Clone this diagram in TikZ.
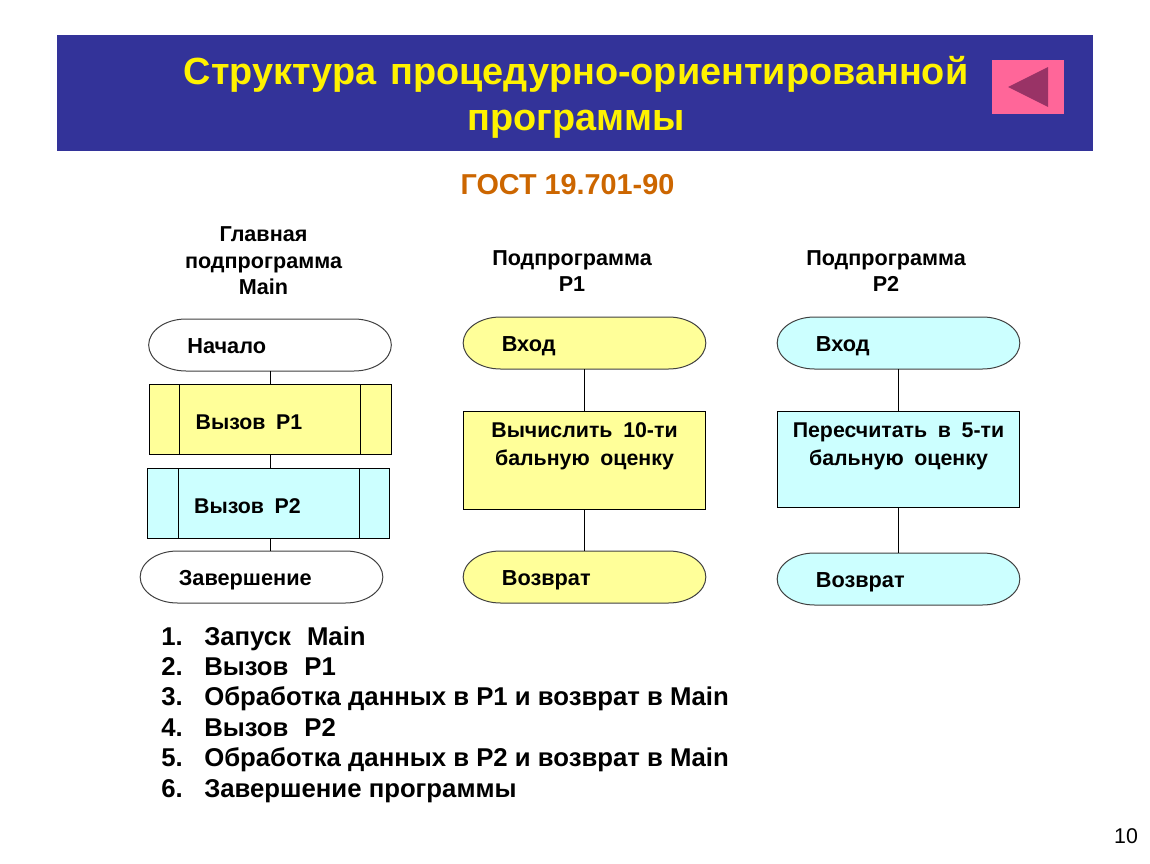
\documentclass[tikz,border=0pt]{standalone}
\usepackage{fontspec}
\setmainfont{Liberation Sans}
\usetikzlibrary{calc}
\usetikzlibrary{backgrounds}
\definecolor{bannerblue}{HTML}{333399}
\definecolor{gostorange}{HTML}{CC6600}
\definecolor{paleyellow}{HTML}{FFFF99}
\definecolor{palecyan}{HTML}{CCFFFF}
\definecolor{btnpink}{HTML}{FF6699}
\definecolor{btnplum}{HTML}{993366}
\tikzset{termnode/.style={minimum height=39pt, text width=124pt, inner xsep=29pt, inner ysep=0pt, outer sep=0pt, align=left, text height=16pt, text depth=3pt, font=\fontsize{16.3}{19}\selectfont\bfseries,
  append after command={\pgfextra{\begin{pgfonlayer}{background}
    \draw[line width=0.75pt, draw=black!75, fill=#1] ($(\tikzlastnode.north west)+(28pt,0)$) -- ($(\tikzlastnode.north east)+(-28pt,0)$) arc[start angle=90, end angle=-90, x radius=28pt, y radius=19.5pt] -- ($(\tikzlastnode.south west)+(28pt,0)$) arc[start angle=270, end angle=90, x radius=28pt, y radius=19.5pt] -- cycle;
  \end{pgfonlayer}}}}}
\tikzstyle{callnode} = [draw, line width=0.75pt, minimum height=52.5pt, text width=111.5pt, inner xsep=35pt, inner ysep=0pt, outer sep=0pt, align=left, text height=18pt, text depth=3pt, font=\fontsize{16}{19}\selectfont\bfseries]
\tikzstyle{procnode} = [draw, line width=0.75pt, minimum width=182pt, outer sep=0pt]
\tikzstyle{proctext} = [align=center, inner sep=0pt, font=\fontsize{16}{21}\selectfont\bfseries]
\tikzstyle{headnode} = [align=center, inner sep=0pt, font=\fontsize{16.2}{20}\selectfont\bfseries]
\tikzstyle{stepnode} = [anchor=west, inner sep=0pt, text height=16pt, text depth=3pt, font=\fontsize{19.3}{22}\selectfont\bfseries]
\tikzstyle{link} = [line width=0.75pt]
\newcommand{\dsp}{\hspace{0.5em}}
\newcommand{\wsp}{\hspace{0.62em}}
\begin{document}
\begin{tikzpicture}[x=0.75pt,y=-0.75pt]
\useasboundingbox (0,0) rectangle (1150,864);
% banner
\node[fill=bannerblue, minimum width=777pt, minimum height=87pt, inner sep=0pt] (banner) at (575,93) {};
\node[align=center, inner sep=0pt, text=yellow, font=\fontsize{28.4}{34.5}\selectfont\bfseries] (title) at (576,97) {Структура\hspace{0.37em}процедурно-ориентированной\\программы};
\node[fill=btnpink, minimum width=54pt, minimum height=40pt, inner sep=0pt] (button) at (1028,87) {};
\coordinate (tri_tip) at (1008,87);
\coordinate (tri_top) at (1048,67);
\coordinate (tri_bot) at (1048,107);
\fill[btnplum] (tri_tip) -- (tri_top) -- (tri_bot) -- cycle;
\node[inner sep=0pt, text=gostorange, font=\fontsize{21.6}{25}\selectfont\bfseries] (gost) at (567.5,185) {ГОСТ 19.701-90};
% headings
\node[headnode] (head_main) at (263.5,261) {Главная\\подпрограмма\\Main};
\node[headnode] (head_p1) at (572,271) {Подпрограмма\\P1};
\node[headnode] (head_p2) at (886,271) {Подпрограмма\\P2};
% main
\node[termnode=white] (start) at (270,345) {Начало};
\node[callnode, fill=paleyellow] (call_p1) at (270,419.5) {Вызов\dsp P1};
\node[callnode, fill=palecyan] (call_p2) at (268.5,503.5) {Вызов\dsp P2};
\node[termnode=white] (finish) at (261.5,577) {Завершение};
\draw[link] (call_p1.north west) ++(30,0) -- ++(0,70);
\draw[link] (call_p1.north east) ++(-31,0) -- ++(0,70);
\draw[link] (call_p2.north west) ++(30.5,0) -- ++(0,69);
\draw[link] (call_p2.north east) ++(-30,0) -- ++(0,69);
\draw[link] (start.south) -- (call_p1.north);
\draw[link] (call_p1.south) -- (call_p1.south |- call_p2.north);
\draw[link] (call_p1.south |- call_p2.south) -- (call_p1.south |- finish.north);
% P1
\node[termnode=paleyellow] (p1_enter) at (584.5,343) {Вход};
\node[procnode, fill=paleyellow, minimum height=73.5pt] (p1_calc) at ($(p1_enter)+(0,117)$) {};
\node[proctext] (p1_calc_text) at ($(p1_calc)+(0,-14)$) {Вычислить\dsp 10-ти\\бальную\dsp оценку};
\node[termnode=paleyellow] (p1_back) at ($(p1_enter)+(0,234)$) {Возврат};
\draw[link] (p1_enter) -- (p1_calc);
\draw[link] (p1_calc) -- (p1_back);
% P2
\node[termnode=palecyan] (p2_enter) at (898.5,343) {Вход};
\node[procnode, fill=palecyan, minimum height=72pt] (p2_calc) at ($(p2_enter)+(0,116)$) {};
\node[proctext] (p2_calc_text) at ($(p2_calc)+(0,-13)$) {Пересчитать\dsp в\dsp 5-ти\\бальную\dsp оценку};
\node[termnode=palecyan] (p2_back) at ($(p2_enter)+(0,236)$) {Возврат};
\draw[link] (p2_enter) -- (p2_calc);
\draw[link] (p2_calc) -- (p2_back);
% steps
\node[stepnode] (num1) at (161,636.7) {1.};
\node[stepnode] (step1) at (204,636.7) {Запуск\wsp Main};
\node[stepnode] (num2) at (161,667.3) {2.};
\node[stepnode] (step2) at (204,667.3) {Вызов\wsp P1};
\node[stepnode] (num3) at (161,697.3) {3.};
\node[stepnode] (step3) at (204,697.3) {Обработка данных в P1 и возврат в Main};
\node[stepnode] (num4) at (161,728.3) {4.};
\node[stepnode] (step4) at (204,728.3) {Вызов\wsp P2};
\node[stepnode] (num5) at (161,758.3) {5.};
\node[stepnode] (step5) at (204,758.3) {Обработка данных в P2 и возврат в Main};
\node[stepnode] (num6) at (161,789.3) {6.};
\node[stepnode] (step6) at (204,789.3) {Завершение программы};
\node[inner sep=0pt, font=\fontsize{16}{18}\selectfont] (pagenum) at (1126,836) {10};
\end{tikzpicture}
\end{document}
